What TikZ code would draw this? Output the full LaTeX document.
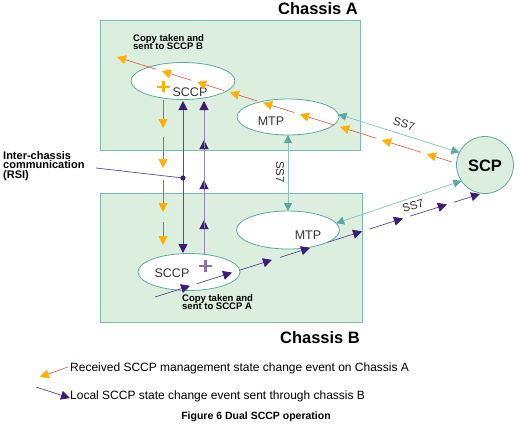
\documentclass[tikz,border=0pt]{standalone}
\usepackage{fontspec}
\setmainfont{Liberation Sans}
\usetikzlibrary{shapes.geometric,arrows.meta,calc}
\definecolor{boxfill}{HTML}{DCEEDE}
\definecolor{boxline}{HTML}{7BBDB1}
\definecolor{ellline}{HTML}{5FA9A0}
\definecolor{tealline}{HTML}{8CC8BE}
\definecolor{tealhead}{HTML}{5BAA9F}
\definecolor{orangehead}{HTML}{FFB000}
\definecolor{redline}{HTML}{EE4B4B}
\definecolor{purphead}{HTML}{3B1C78}
\definecolor{purpline}{HTML}{5B4A95}
\definecolor{graypurp}{HTML}{9088B4}
\definecolor{pluspurp}{HTML}{8A70B0}
\definecolor{txtgray}{HTML}{333333}
\newcommand\myfs[1]{\fontsize{#1}{#1}\selectfont}
\begin{document}
\begin{tikzpicture}[x=1pt,y=-1pt,
  chassis/.style={draw=boxline,fill=boxfill,line width=0.9pt,minimum width=#1,inner sep=0,outer sep=0},
  ell/.style={ellipse,draw=ellline,fill=white,line width=0.8pt,inner sep=0,outer sep=0},
  ssl/.style={draw=tealline,line width=0.8pt,{Triangle[length=8pt,width=8pt,color=tealhead]}-{Triangle[length=8pt,width=8pt,color=tealhead]}},
  oseg/.style={draw=redline,line width=0.6pt,-{Triangle[length=9pt,width=9pt,color=orangehead]}},
  pseg/.style={draw=purpline,line width=0.7pt,-{Triangle[length=9pt,width=9pt,color=purphead]}},
  gseg/.style={draw=graypurp,line width=1pt,-{Triangle[length=9pt,width=9pt,color=purphead]}},
  eltext/.style={text=txtgray,font=\myfs{12.5}},
  ss7text/.style={text=txtgray,font=\myfs{11.5},inner sep=0},
  smallbold/.style={font=\myfs{9.5}\bfseries,align=left,inner sep=0,anchor=north west},
]
\useasboundingbox (0,0) rectangle (517,428);
% chassis boxes
\node[chassis=260pt,minimum height=130pt] (boxA) at (230,85) {};
\node[chassis=262pt,minimum height=129pt] (boxB) at (231,257.5) {};
\node[font=\myfs{16.5}\bfseries,inner sep=0] (titleA) at (318,9) {Chassis A};
\node[font=\myfs{16.5}\bfseries,inner sep=0] (titleB) at (320,338) {Chassis B};
% ellipses
\node[ell,minimum width=104pt,minimum height=37pt] (sccpA) at (183,81) {};
\node[ell,minimum width=102pt,minimum height=36pt] (mtpA) at (288,117) {};
\node[ell,minimum width=103pt,minimum height=38pt] (mtpB) at (288,230) {};
\node[ell,minimum width=102pt,minimum height=37pt] (sccpB) at (189,272) {};
\node[circle,draw=ellline,fill=boxfill,line width=0.8pt,minimum size=57pt,inner sep=0,outer sep=0] (scp) at (485,165) {};
\node[eltext] (tSccpA) at (190,92) {SCCP};
\node[eltext] (tMtpA) at (271,121) {MTP};
\node[eltext] (tMtpB) at (308,235) {MTP};
\node[eltext] (tSccpB) at (172,273) {SCCP};
\node[font=\myfs{16.5}\bfseries] (tScp) at (485,166) {SCP};
% plus signs
\draw[orangehead,line width=2.6pt] (157,87) -- (169.5,87) (163.2,81.5) -- (163.2,92.5);
\draw[pluspurp,line width=2.6pt] (199,266) -- (212,266) (205.5,260) -- (205.5,272);
% SS7 links
\draw[ssl] (mtpA.3) -- (scp.154);
\node[ss7text,rotate=-17] (ss7a) at (404,124) {SS7};
\draw[ssl] (mtpA.south) -- (mtpB.north);
\node[ss7text,rotate=-90] (ss7v) at (280,172) {SS7};
\draw[ssl] (mtpB.8) -- (scp.214);
\node[ss7text,rotate=16] (ss7b) at (413,206) {SS7};
% orange diagonal
\coordinate (oS) at (452,162);
\coordinate (oE) at (117,57);
\foreach \a/\b in {0/0.075,0.092/0.209,0.226/0.334,0.351/0.454,0.471/0.564,0.581/0.663,0.68/0.761,0.778/0.866,0.883/1}
  \draw[oseg] ($(oS)!\a!(oE)$) -- ($(oS)!\b!(oE)$);
% orange vertical
\foreach \a/\b in {100/128,137/168,180/212,222/245}
  \draw[oseg] (163,\a) -- (163,\b);
% purple vertical double
\coordinate (pdTop) at (183,101);
\coordinate (pdBot) at (183,253);
\draw[draw=purpline,line width=0.9pt,{Triangle[length=9pt,width=9pt,color=purphead]}-{Triangle[length=9pt,width=9pt,color=purphead]}] (pdTop) -- (pdBot);
% purple up segments
\foreach \a/\b in {254/220,228/180,188/140,148/101}
  \draw[gseg] (204,\a) -- (204,\b);
% RSI
\node[font=\myfs{11}\bfseries,align=left,inner sep=0,anchor=north west] (rsi) at (3,151) {Inter-chassis\\[-1.2pt]communication\\[-1.2pt](RSI)};
\coordinate (rsiS) at (96,168);
\coordinate (rsiDot) at (183,178);
\draw[purpline,line width=0.7pt] (rsiS) -- (rsiDot);
\fill[purphead] (rsiDot) circle (2.6pt);
% purple diagonal
\coordinate (pS) at (155,297);
\coordinate (pE) at (480,194);
\foreach \a/\b in {0/0.108,0.13/0.237,0.26/0.36,0.385/0.477,0.53/0.637,0.66/0.763,0.785/0.898,0.92/1}
  \draw[pseg] ($(pS)!\a!(pE)$) -- ($(pS)!\b!(pE)$);
% copy labels
\node[smallbold] (copyB) at (133,34) {Copy taken and\\[-1.5pt]sent to SCCP B};
\node[smallbold] (copyA) at (182,294.5) {Copy taken and\\[-1.5pt]sent to SCCP A};
% legend
\coordinate (l1s) at (68,367);
\coordinate (l1e) at (40,377);
\draw[oseg] (l1s) -- (l1e);
\node[font=\myfs{12},anchor=west,inner sep=0] (leg1) at (70,368) {Received SCCP management state change event on Chassis A};
\coordinate (l2s) at (36,387);
\coordinate (l2e) at (70,398);
\draw[pseg] (l2s) -- (l2e);
\node[font=\myfs{12},anchor=west,inner sep=0] (leg2) at (70,396) {Local SCCP state change event sent through chassis B};
\node[font=\myfs{10.5}\bfseries,inner sep=0] (caption) at (256,417) {Figure 6 Dual SCCP operation};
\end{tikzpicture}
\end{document}
